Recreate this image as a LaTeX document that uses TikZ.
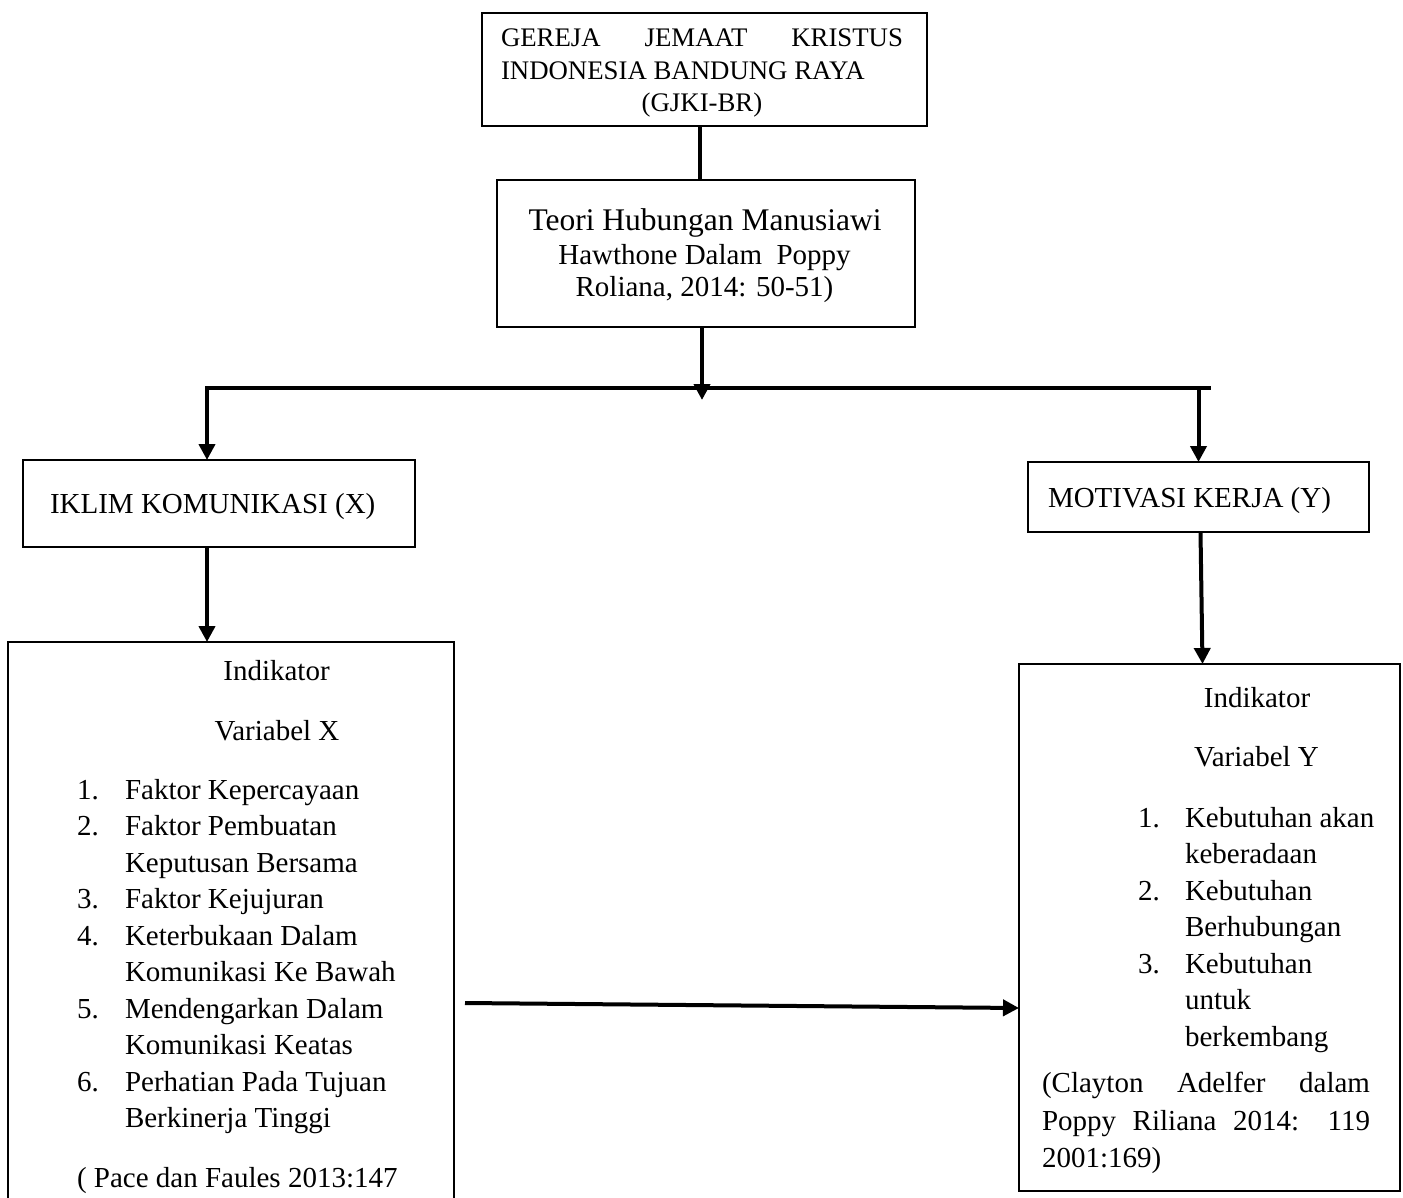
\documentclass[tikz,border=0pt]{standalone}
\usepackage{fontspec}
\setmainfont{Liberation Serif}
\usetikzlibrary{arrows.meta,calc}
\begin{document}
\begin{tikzpicture}[x=1pt,y=-1pt,
  box/.style={draw,line width=2.5pt,inner sep=0pt,outer sep=0pt},
  txt/.style={inner sep=0pt,outer sep=0pt,anchor=base west,font=\fontsize{29}{36.5}\selectfont},
  ctxt/.style={inner sep=0pt,outer sep=0pt,anchor=base,font=\fontsize{29}{36.5}\selectfont},
  toptxt/.style={font=\fontsize{26.8}{33}\selectfont},
  wire/.style={line width=4pt},
  arr/.style={line width=4pt,-{Triangle[length=16pt,width=16pt]}}]
\useasboundingbox (0,0) rectangle (1403,1198);
\clip (0,0) rectangle (1403,1198);

% boxes
\node[box,minimum width=445pt,minimum height=113pt] (gereja) at (704.5,69.5) {};
\node[box,minimum width=418pt,minimum height=147pt] (teori) at (706,253.5) {};
\node[box,minimum width=392pt,minimum height=87pt] (iklim) at (219,503.5) {};
\node[box,minimum width=341pt,minimum height=70pt] (motivasi) at (1198.5,497) {};
\node[box,minimum width=446pt,minimum height=573pt] (leftbox) at (231,928.5) {};
\node[box,minimum width=381pt,minimum height=527pt] (rightbox) at (1209.5,927.5) {};

% top box text
\node[txt,toptxt] (g1) at (501,47) {\makebox[402pt][s]{GEREJA JEMAAT KRISTUS}};
\node[txt,toptxt] (g2) at (501,80) {INDONESIA BANDUNG RAYA};
\node[ctxt,toptxt] (g3) at (702,112) {(GJKI-BR)};

% theory box text
\node[ctxt,font=\fontsize{31.5}{33}\selectfont] (t1) at (705,231) {Teori Hubungan Manusiawi};
\node[ctxt] (t2) at (704.5,265) {Hawthone Dalam\ \ Poppy};
\node[ctxt] (t3) at (704.5,297) {Roliana, 2014: 50-51)};

% variable boxes
\node[txt] (xlabel) at (50,513) {IKLIM KOMUNIKASI (X)};
\node[txt] (ylabel) at (1048,507) {MOTIVASI KERJA (Y)};

% left indicator box
\node[ctxt] (lx1) at (276.5,680) {Indikator};
\node[ctxt] (lx2) at (277,740) {Variabel X};
\node[txt] (n1) at (77,799) {1.};
\node[txt] (i1) at (125,799) {Faktor Kepercayaan};
\node[txt] (n2) at (77,835.5) {2.};
\node[txt] (i2) at (125,835.5) {Faktor Pembuatan};
\node[txt] (i2b) at (125,872) {Keputusan Bersama};
\node[txt] (n3) at (77,908.5) {3.};
\node[txt] (i3) at (125,908.5) {Faktor Kejujuran};
\node[txt] (n4) at (77,945) {4.};
\node[txt] (i4) at (125,945) {Keterbukaan Dalam};
\node[txt] (i4b) at (125,981.5) {Komunikasi Ke Bawah};
\node[txt] (n5) at (77,1018) {5.};
\node[txt] (i5) at (125,1018) {Mendengarkan Dalam};
\node[txt] (i5b) at (125,1054.5) {Komunikasi Keatas};
\node[txt] (n6) at (77,1091) {6.};
\node[txt] (i6) at (125,1091) {Perhatian Pada Tujuan};
\node[txt] (i6b) at (125,1127.5) {Berkinerja Tinggi};
\node[txt] (srcx) at (77,1187) {( Pace dan Faules 2013:147};

% right indicator box
\node[ctxt] (ry1) at (1257,707) {Indikator};
\node[ctxt] (ry2) at (1256.5,766) {Variabel Y};
\node[txt] (m1) at (1138,827) {1.};
\node[txt] (j1) at (1185,827) {Kebutuhan akan};
\node[txt] (j1b) at (1185,863.5) {keberadaan};
\node[txt] (m2) at (1138,900) {2.};
\node[txt] (j2) at (1185,900) {Kebutuhan};
\node[txt] (j2b) at (1185,936.5) {Berhubungan};
\node[txt] (m3) at (1138,973) {3.};
\node[txt] (j3) at (1185,973) {Kebutuhan};
\node[txt] (j3b) at (1185,1009.5) {untuk};
\node[txt] (j3c) at (1185,1046) {berkembang};
\node[txt] (srcy1) at (1042,1092) {\makebox[328pt][s]{(Clayton Adelfer dalam}};
\node[txt] (srcy2) at (1042,1130) {\makebox[328pt][s]{Poppy Riliana 2014: 119}};
\node[txt] (srcy3) at (1042,1167) {2001:169)};

% connectors
\coordinate (bl) at (207,388);
\coordinate (br) at (1211,388);
\draw[wire] ([xshift=-4.5pt]gereja.south) -- ([xshift=-4.5pt]gereja.south |- teori.north);
\draw[arr] ([xshift=-4pt]teori.south) -- ([xshift=-4pt,yshift=-12pt]teori.south |- bl);
\draw[wire] (bl) -- (br);
\draw[arr] ([yshift=2pt]bl) -- (bl |- iklim.north);
\draw[arr] (motivasi.north |- br) -- (motivasi.north);
\draw[arr] (iklim.south -| bl) -- (leftbox.north -| bl);
\draw[arr] ([xshift=2pt]motivasi.south) -- ([xshift=4pt]motivasi.south |- rightbox.north);
\draw[arr] ($(leftbox.north east)+(11,361)$) -- ($(rightbox.north west)+(0,344)$);
\end{tikzpicture}
\end{document}
